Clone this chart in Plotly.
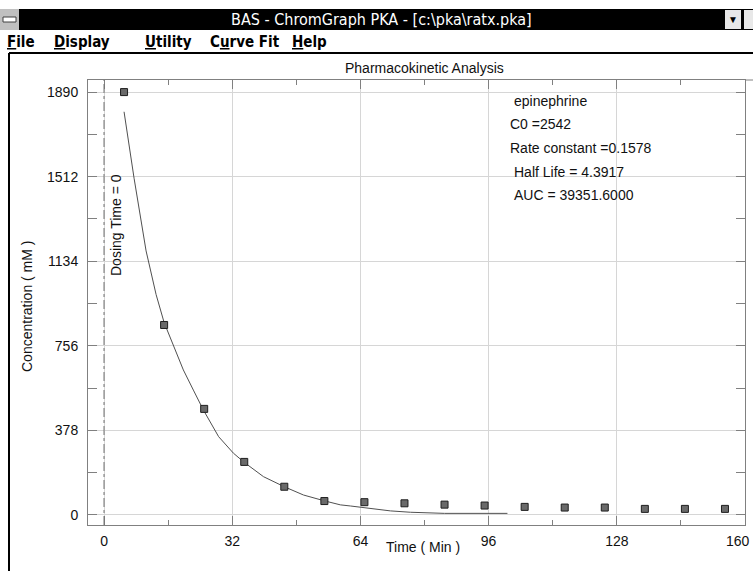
import plotly.graph_objects as go

# ---------------- data ----------------
time_min = [5, 15, 25, 35, 45, 55, 65, 75, 85, 95, 105, 115, 125, 135, 145, 155]
conc_mM = [1890, 849, 474, 237, 126, 62, 57, 52, 46, 42, 36, 33, 33, 27, 27, 27]

fit_time = [5, 7.5, 10.5, 13, 15, 17.75, 19.8, 22.3, 24.8, 28.6, 32.3, 35, 39.8, 45,
            49.8, 55, 59, 61.5, 65.7, 71.5, 76.5, 85, 100.7]
fit_conc = [1802, 1505, 1180, 985, 860, 737, 648, 558, 469, 350, 276, 235, 171, 126,
            89, 63, 45, 40, 30, 18, 12, 7, 7]

dosing_time = 0
x_ticks = [0, 32, 64, 96, 128, 160]
x_tick_labels = ["0", "32", "64", "96", "128", "160"]
y_ticks = [0, 378, 756, 1134, 1512, 1890]

info_lines = ["epinephrine", "C0 =2542", "Rate constant =0.1578", "Half Life = 4.3917",
              "AUC = 39351.6000"]
chart_title = "Pharmacokinetic Analysis"
x_title = "Time ( Min )"
y_title = "Concentration ( mM )"
dose_label = "Dosing Time = 0"
window_title = "BAS - ChromGraph PKA - [c:\\pka\\ratx.pka]"
menu_items = ["<u>F</u>ile", "<u>D</u>isplay", "<u>U</u>tility", "C<u>u</u>rve Fit", "<u>H</u>elp"]

# ---------------- geometry helpers ----------------
W, H = 753, 571
L, R, T, B = 88, 745, 80, 525


def px_x(px):
    return (px - L) / (R - L)


def px_y(py):
    return (B - py) / (B - T)


FONT = "Liberation Sans, Arial, sans-serif"
NARROW = "Liberation Sans Narrow, DejaVu Sans Condensed, Arial Narrow, sans-serif"
FRAME = "#808080"
GRID = "#d6d6d6"

fig = go.Figure()

fig.add_trace(go.Scatter(
    x=fit_time, y=fit_conc, mode="lines",
    line=dict(color="#505050", width=1), hoverinfo="skip"))

fig.add_trace(go.Scatter(
    x=time_min, y=conc_mM, mode="markers",
    marker=dict(symbol="square", size=7, color="#6a6a6a",
                line=dict(color="#1e1e1e", width=1))))

shapes = []
# dosing time dash-dot line
shapes.append(dict(type="line", xref="x", yref="paper", x0=dosing_time, x1=dosing_time,
                   y0=0, y1=1, line=dict(color="#707070", width=1, dash="dashdot")))
# window chrome: title bar
shapes.append(dict(type="rect", xref="paper", yref="paper", x0=px_x(0), x1=px_x(W),
                   y0=px_y(30), y1=px_y(9), fillcolor="#000000", line=dict(width=0), layer="above"))
# system menu box
shapes.append(dict(type="rect", xref="paper", yref="paper", x0=px_x(0), x1=px_x(19),
                   y0=px_y(30), y1=px_y(9), fillcolor="#c0c0c0", line=dict(width=0), layer="above"))
shapes.append(dict(type="rect", xref="paper", yref="paper", x0=px_x(3), x1=px_x(16),
                   y0=px_y(22), y1=px_y(17), fillcolor="#ffffff",
                   line=dict(color="#404040", width=1), layer="above"))
# right buttons
shapes.append(dict(type="rect", xref="paper", yref="paper", x0=px_x(725), x1=px_x(741),
                   y0=px_y(29), y1=px_y(10), fillcolor="#e8e8e8", line=dict(width=0), layer="above"))
shapes.append(dict(type="rect", xref="paper", yref="paper", x0=px_x(744), x1=px_x(753),
                   y0=px_y(29), y1=px_y(10), fillcolor="#e8e8e8", line=dict(width=0), layer="above"))
# menu separator line and left window border
shapes.append(dict(type="line", xref="paper", yref="paper", x0=px_x(9), x1=px_x(W),
                   y0=px_y(53), y1=px_y(53), line=dict(color="#000000", width=2), layer="above"))
shapes.append(dict(type="line", xref="paper", yref="paper", x0=px_x(9), x1=px_x(9),
                   y0=px_y(53), y1=px_y(H), line=dict(color="#000000", width=2), layer="above"))
# top frame extension to right edge
shapes.append(dict(type="line", xref="paper", yref="paper", x0=1, x1=px_x(W),
                   y0=1, y1=1, line=dict(color=FRAME, width=1), layer="above"))

annotations = []
annotations.append(dict(text=window_title, xref="paper", yref="paper",
                        x=px_x(381), y=px_y(19), xanchor="center", yanchor="middle",
                        showarrow=False, font=dict(family=NARROW, size=16, color="#ffffff")))
annotations.append(dict(text="▼", xref="paper", yref="paper", x=px_x(733), y=px_y(19),
                        xanchor="center", yanchor="middle", showarrow=False,
                        font=dict(family=FONT, size=10, color="#000000")))
menu_x = [5, 52, 143, 208, 290]
for lbl, mx in zip(menu_items, menu_x):
    annotations.append(dict(text="<b>" + lbl + "</b>", xref="paper", yref="paper",
                            x=px_x(mx), y=px_y(42), xanchor="left", yanchor="middle",
                            showarrow=False, font=dict(family=NARROW, size=15, color="#000000")))
annotations.append(dict(text=chart_title, xref="paper", yref="paper",
                        x=px_x(424), y=px_y(68), xanchor="center", yanchor="middle",
                        showarrow=False, font=dict(family=FONT, size=14, color="#111111")))
annotations.append(dict(text=x_title, xref="paper", yref="paper",
                        x=px_x(423), y=px_y(547), xanchor="center", yanchor="middle",
                        showarrow=False, font=dict(family=FONT, size=14, color="#111111")))
annotations.append(dict(text=y_title, xref="paper", yref="paper", textangle=-90,
                        x=px_x(27), y=px_y(307), xanchor="center", yanchor="middle",
                        showarrow=False, font=dict(family=FONT, size=14, color="#111111")))
annotations.append(dict(text=dose_label, xref="paper", yref="paper", textangle=-90,
                        x=px_x(116), y=px_y(225), xanchor="center", yanchor="middle",
                        showarrow=False, font=dict(family=FONT, size=14, color="#111111")))
info_x = [512, 508, 508, 512, 512]
info_y = [101, 124, 148, 172, 195]
for txt, ix, iy in zip(info_lines, info_x, info_y):
    annotations.append(dict(text=txt, xref="paper", yref="paper",
                            x=px_x(ix), y=px_y(iy), xanchor="left", yanchor="middle",
                            showarrow=False, font=dict(family=FONT, size=14, color="#111111")))
# last x tick label kept fully inside the window
annotations.append(dict(text=x_tick_labels[-1], xref="paper", yref="paper",
                        x=px_x(752), y=px_y(541), xanchor="right", yanchor="middle",
                        showarrow=False, font=dict(family=FONT, size=14, color="#111111")))
shown_labels = x_tick_labels[:-1] + [""]

fig.update_layout(
    width=W, height=H, autosize=False,
    margin=dict(l=L, r=W - R, t=T, b=H - B, pad=0),
    paper_bgcolor="#ffffff", plot_bgcolor="#ffffff",
    showlegend=False,
    shapes=shapes, annotations=annotations,
    font=dict(family=FONT, size=14, color="#111111"),
    xaxis=dict(range=[-4, 160], tickmode="array", tickvals=x_ticks, ticktext=shown_labels,
               showgrid=True, gridcolor=GRID, gridwidth=1, zeroline=False,
               showline=True, linecolor=FRAME, linewidth=1, mirror="ticks",
               ticks="inside", ticklen=9, tickcolor=FRAME, tickwidth=1,
               minor=dict(dtick=16, tick0=0, ticks="inside", ticklen=5, tickcolor=FRAME,
                          showgrid=False),
               ticklabelstandoff=3,
               tickfont=dict(family=FONT, size=14, color="#111111")),
    yaxis=dict(range=[-45, 1944], tickmode="array", tickvals=y_ticks,
               showgrid=True, gridcolor=GRID, gridwidth=1, zeroline=False,
               showline=True, linecolor=FRAME, linewidth=1, mirror="ticks",
               ticks="inside", ticklen=9, tickcolor=FRAME, tickwidth=1,
               minor=dict(dtick=189, tick0=0, ticks="inside", ticklen=9, tickcolor=FRAME,
                          showgrid=False),
               ticklabelstandoff=6,
               tickfont=dict(family=FONT, size=14, color="#111111")),
)

fig.write_html("out.html", config={"displayModeBar": False},
               post_script="document.body.style.margin='0';document.body.style.overflow='hidden';")
